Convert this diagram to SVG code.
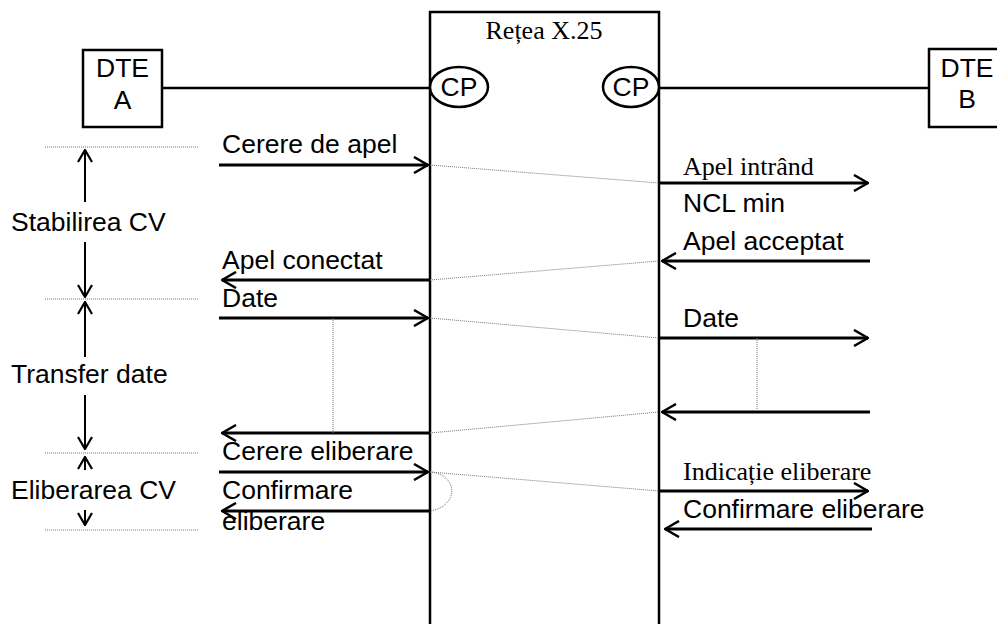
<svg xmlns="http://www.w3.org/2000/svg" width="997" height="624" viewBox="0 0 997 624">
  <style>
    .box { fill: #fff; stroke: #000; stroke-width: 2.5; }
    .link { stroke: #000; stroke-width: 2.5; fill: none; }
    .msg { stroke: #000; stroke-width: 3; fill: none; }
    .phase { stroke: #000; stroke-width: 2; fill: none; }
    .dot { stroke: #777; stroke-width: 1; stroke-dasharray: 1 1; fill: none; }
    .sans { font-family: "Liberation Sans", Arial, sans-serif; font-size: 26.5px; fill: #000; }
    .serif { font-family: "Liberation Serif", "Times New Roman", serif; font-size: 26px; fill: #000; }
  </style>
  <defs>
    <marker id="head" viewBox="0 0 16 18" refX="15" refY="9" markerWidth="16" markerHeight="18" markerUnits="userSpaceOnUse" orient="auto">
      <path d="M1,1 L15,9 L1,17" fill="none" stroke="#000" stroke-width="2.5"/>
    </marker>
    <marker id="headSmall" viewBox="0 0 14 16" refX="13" refY="8" markerWidth="14" markerHeight="16" markerUnits="userSpaceOnUse" orient="auto">
      <path d="M1,1 L13,8 L1,15" fill="none" stroke="#000" stroke-width="2.2"/>
    </marker>
  </defs>

  <!-- X.25 network with its two packet switching nodes -->
  <g id="network">
    <rect class="box" x="430" y="12" width="229" height="700"/>
    <text class="serif" x="544" y="39" text-anchor="middle">Rețea X.25</text>
  </g>
  <g id="cp-left">
    <ellipse class="box" cx="459" cy="87" rx="29" ry="20"/>
    <text class="sans" x="459" y="96" text-anchor="middle">CP</text>
  </g>
  <g id="cp-right">
    <ellipse class="box" cx="631" cy="87" rx="28" ry="20"/>
    <text class="sans" x="631" y="96" text-anchor="middle">CP</text>
  </g>

  <!-- terminals -->
  <g id="dte-a">
    <rect class="box" x="83" y="50" width="79" height="77"/>
    <text class="sans" x="122.5" y="77" text-anchor="middle">DTE</text>
    <text class="sans" x="122.5" y="109" text-anchor="middle">A</text>
  </g>
  <g id="dte-b">
    <rect class="box" x="929" y="49" width="79" height="78"/>
    <text class="sans" x="967" y="77" text-anchor="middle">DTE</text>
    <text class="sans" x="967" y="108" text-anchor="middle">B</text>
  </g>

  <!-- phase brackets on the left -->
  <g id="phases">
    <line class="dot" x1="45" y1="147" x2="198" y2="147"/>
    <line class="dot" x1="45" y1="299" x2="198" y2="299"/>
    <line class="dot" x1="45" y1="453" x2="198" y2="453"/>
    <line class="dot" x1="45" y1="530" x2="198" y2="530"/>

    <line class="phase" x1="85" y1="202" x2="85" y2="150" marker-end="url(#headSmall)"/>
    <line class="phase" x1="85" y1="242" x2="85" y2="297" marker-end="url(#headSmall)"/>
    <line class="phase" x1="85" y1="357" x2="85" y2="302" marker-end="url(#headSmall)"/>
    <line class="phase" x1="85" y1="395" x2="85" y2="449" marker-end="url(#headSmall)"/>
    <line class="phase" x1="85" y1="470" x2="85" y2="457" marker-end="url(#headSmall)"/>
    <line class="phase" x1="85" y1="510" x2="85" y2="525" marker-end="url(#headSmall)"/>

    <text class="sans" x="11" y="231">Stabilirea CV</text>
    <text class="sans" x="11" y="383">Transfer date</text>
    <text class="sans" x="11" y="499">Eliberarea CV</text>
  </g>

  <!-- connectors -->
  <g id="connectors">
    <!-- access lines -->
    <line class="link" x1="162" y1="88" x2="430" y2="88"/>
    <line class="link" x1="659" y1="88" x2="929" y2="88"/>

    <!-- DTE A side -->
    <line class="msg" x1="219" y1="165" x2="428" y2="165" marker-end="url(#head)"/>
    <line class="msg" x1="430" y1="280" x2="222" y2="280" marker-end="url(#head)"/>
    <line class="msg" x1="219" y1="318" x2="428" y2="318" marker-end="url(#head)"/>
    <line class="msg" x1="430" y1="433" x2="222" y2="433" marker-end="url(#head)"/>
    <line class="msg" x1="219" y1="472" x2="428" y2="472" marker-end="url(#head)"/>
    <line class="msg" x1="430" y1="511" x2="222" y2="511" marker-end="url(#head)"/>

    <!-- DTE B side -->
    <line class="msg" x1="659" y1="183" x2="868" y2="183" marker-end="url(#head)"/>
    <line class="msg" x1="870" y1="261" x2="662" y2="261" marker-end="url(#head)"/>
    <line class="msg" x1="659" y1="338" x2="868" y2="338" marker-end="url(#head)"/>
    <line class="msg" x1="870" y1="412" x2="662" y2="412" marker-end="url(#head)"/>
    <line class="msg" x1="659" y1="491" x2="868" y2="491" marker-end="url(#head)"/>
    <line class="msg" x1="872" y1="529" x2="665" y2="529" marker-end="url(#head)"/>

    <!-- transit through the network -->
    <line class="dot" x1="430" y1="165" x2="659" y2="183"/>
    <line class="dot" x1="430" y1="280" x2="659" y2="261"/>
    <line class="dot" x1="430" y1="318" x2="659" y2="338"/>
    <line class="dot" x1="430" y1="433" x2="659" y2="412"/>
    <line class="dot" x1="430" y1="472" x2="659" y2="491"/>
    <path class="dot" d="M430,472 C458,474 460,506 430,511"/>

    <!-- data exchange spans -->
    <line class="dot" x1="333" y1="318" x2="333" y2="433"/>
    <line class="dot" x1="757" y1="338" x2="757" y2="412"/>
  </g>

  <!-- message labels -->
  <g id="labels">
    <text class="sans" x="222" y="153">Cerere de apel</text>
    <text class="sans" x="222" y="269">Apel conectat</text>
    <text class="sans" x="222" y="307">Date</text>
    <text class="sans" x="222" y="460">Cerere eliberare</text>
    <text class="sans" x="222" y="499">Confirmare</text>
    <text class="sans" x="222" y="530">eliberare</text>

    <text class="serif" x="683" y="175">Apel intrând</text>
    <text class="sans" x="683" y="212">NCL min</text>
    <text class="sans" x="683" y="250">Apel acceptat</text>
    <text class="sans" x="683" y="327">Date</text>
    <text class="serif" x="683" y="480">Indicație eliberare</text>
    <text class="sans" x="683" y="518">Confirmare eliberare</text>
  </g>
</svg>
